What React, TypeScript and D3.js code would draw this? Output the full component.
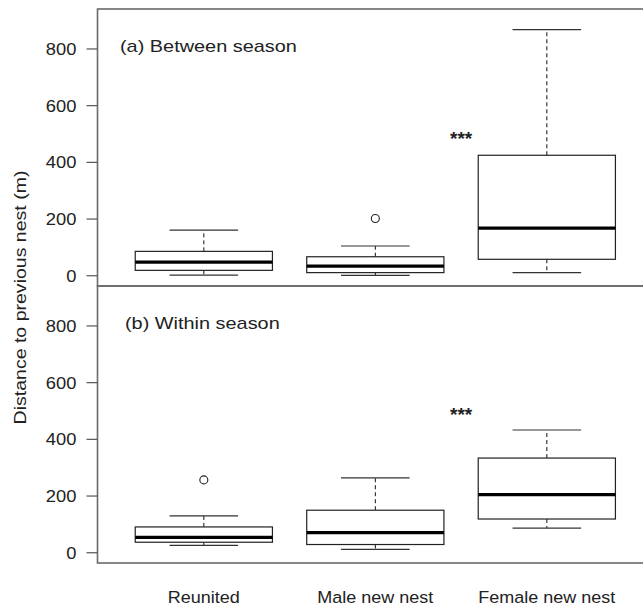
import React, { useEffect, useRef } from 'react';
import * as d3 from 'd3';

const categories = ['Reunited', 'Male new nest', 'Female new nest'];
const panelTitles = ['(a) Between season', '(b) Within season'];
const yTicks = [0, 200, 400, 600, 800];

// box stats (m)
const betweenLow = [2, 1, 11];
const betweenQ1 = [19, 11, 58];
const betweenMedian = [48, 34, 168];
const betweenQ3 = [86, 67, 425];
const betweenHigh = [161, 105, 868];
const betweenOutliers = [[], [202], []];

const withinLow = [26, 12, 87];
const withinQ1 = [37, 29, 119];
const withinMedian = [54, 71, 205];
const withinQ3 = [91, 150, 334];
const withinHigh = [130, 264, 433];
const withinOutliers = [[257], [], []];

// significance marker position (between groups 2 and 3)
const starX = 2.5;
const starY = [500, 505];

const W = 643;
const H = 608;

const App = () => {
  const svgRef = useRef<SVGSVGElement>(null);

  useEffect(() => {
    const svg = d3.select(svgRef.current);
    svg.selectAll('*').remove();

    const panels = [
      { low: betweenLow, q1: betweenQ1, med: betweenMedian, q3: betweenQ3, high: betweenHigh, out: betweenOutliers, top: 9, bottom: 286, labelX: 120 },
      { low: withinLow, q1: withinQ1, med: withinMedian, q3: withinQ3, high: withinHigh, out: withinOutliers, top: 286, bottom: 563, labelX: 125 },
    ];

    const x = d3.scaleLinear().domain([0.38, 3.62]).range([97.5, 97.5 + 3.24 * 171.5]);
    const font = 'Helvetica, Arial, "Liberation Sans", sans-serif';

    panels.forEach((p, pi) => {
      const y = d3.scaleLinear().domain([-36.2, 941]).range([p.bottom, p.top]);
      const g = svg.append('g');

      // frame (right side runs off the page)
      g.append('rect')
        .attr('x', x(0.38))
        .attr('y', p.top)
        .attr('width', x(3.62) - x(0.38) + 10)
        .attr('height', p.bottom - p.top)
        .attr('fill', 'none')
        .attr('stroke', '#6a6a6a')
        .attr('stroke-width', 1.6);

      // y axis ticks + labels
      yTicks.forEach(t => {
        g.append('line')
          .attr('x1', x(0.38) - 11).attr('x2', x(0.38))
          .attr('y1', y(t)).attr('y2', y(t))
          .attr('stroke', '#555').attr('stroke-width', 1.2);
        g.append('text')
          .attr('transform', `translate(${x(0.38) - 21},${y(t)}) scale(1.08,1)`)
          .attr('text-anchor', 'end')
          .attr('dy', '0.36em')
          .style('font-family', font)
          .style('font-size', '17px')
          .style('fill', '#222')
          .text(t);
      });

      // panel label
      g.append('text')
        .attr('transform', `translate(${p.labelX},${p.top + 43}) scale(1.17,1)`)
        .style('font-family', font)
        .style('font-size', '17px')
        .style('fill', '#222')
        .text(panelTitles[pi]);

      // boxes
      categories.forEach((c, i) => {
        const cx = x(i + 1);
        const hw = x(i + 1.4) - cx;
        const cw = hw / 2;

        // whiskers
        [[p.q3[i], p.high[i]], [p.q1[i], p.low[i]]].forEach(([a, b]) => {
          g.append('line')
            .attr('x1', cx).attr('x2', cx)
            .attr('y1', y(a)).attr('y2', y(b))
            .attr('stroke', '#111').attr('stroke-width', 1)
            .attr('stroke-dasharray', '4,3');
          g.append('line')
            .attr('x1', cx - cw).attr('x2', cx + cw)
            .attr('y1', y(b)).attr('y2', y(b))
            .attr('stroke', '#333').attr('stroke-width', 1.2);
        });

        g.append('rect')
          .attr('x', cx - hw)
          .attr('y', y(p.q3[i]))
          .attr('width', hw * 2)
          .attr('height', y(p.q1[i]) - y(p.q3[i]))
          .attr('fill', 'white')
          .attr('stroke', '#222')
          .attr('stroke-width', 1.2);

        g.append('line')
          .attr('x1', cx - hw).attr('x2', cx + hw)
          .attr('y1', y(p.med[i])).attr('y2', y(p.med[i]))
          .attr('stroke', '#000').attr('stroke-width', 3.2);

        p.out[i].forEach(v => {
          g.append('circle')
            .attr('cx', cx).attr('cy', y(v)).attr('r', 4)
            .attr('fill', 'none').attr('stroke', '#222').attr('stroke-width', 1.1);
        });
      });

      // significance stars
      g.append('text')
        .attr('x', x(starX))
        .attr('y', y(starY[pi]) + 11)
        .attr('text-anchor', 'middle')
        .style('font-family', font)
        .style('font-size', '19px')
        .style('font-weight', 'bold')
        .style('fill', '#222')
        .text('***');
    });

    // category labels
    categories.forEach((c, i) => {
      svg.append('text')
        .attr('transform', `translate(${x(i + 1)},603) scale(1.06,1)`)
        .attr('text-anchor', 'middle')
        .style('font-family', font)
        .style('font-size', '17px')
        .style('fill', '#222')
        .text(c);
    });

    // y axis title
    svg.append('text')
      .attr('transform', 'translate(25.5,297.5) rotate(-90) scale(1.15,1)')
      .attr('text-anchor', 'middle')
      .style('font-family', font)
      .style('font-size', '17px')
      .style('fill', '#222')
      .text('Distance to previous nest (m)');
  }, []);

  return (
    <svg
      ref={svgRef}
      width={W}
      height={H}
      style={{ position: 'absolute', left: 0, top: 0, background: 'white' }}
    />
  );
};

export default App;
